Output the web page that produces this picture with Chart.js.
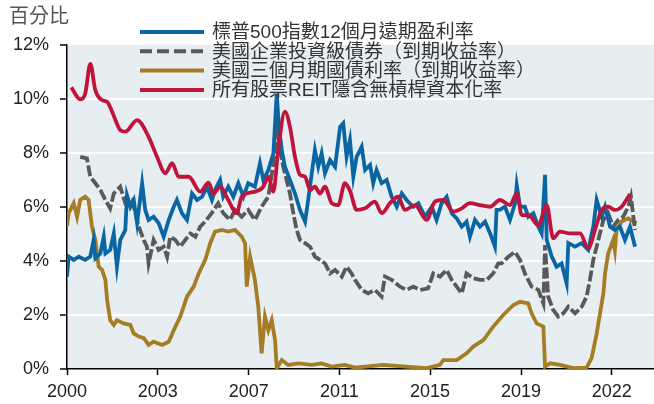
<!DOCTYPE html>
<html>
<head>
<meta charset="utf-8">
<script src="https://cdn.jsdelivr.net/npm/chart.js@4.4.0/dist/chart.umd.min.js"></script>
<style>
  html, body { margin: 0; padding: 0; background: #fff; }
  #wrap { width: 654px; height: 404px; }
</style>
</head>
<body>
<div id="wrap"><canvas id="chart" width="654" height="404"></canvas></div>
<script>
const seriesNames = [
  "標普500指數12個月遠期盈利率",
  "美國企業投資級債券（到期收益率）",
  "美國三個月期國債利率（到期收益率）",
  "所有股票REIT隱含無槓桿資本化率"
];

// x axis: decimal years, tick labels as printed on the source
const xTickPos = [2000, 2003.78, 2007.57, 2011.35, 2015.13, 2018.92, 2022.7];
const xTickLabels = ["2000", "2003", "2007", "2011", "2015", "2019", "2022"];

// S&P 500 12m forward earnings yield (%)
const spX = [2000.00, 2000.07, 2000.28, 2000.49, 2000.76, 2000.97, 2001.11, 2001.18, 2001.39, 2001.53, 2001.60, 2001.80, 2001.95, 2002.08, 2002.22, 2002.43, 2002.50, 2002.64, 2002.78, 2002.92, 2003.13, 2003.26, 2003.40, 2003.61, 2003.82, 2004.03, 2004.24, 2004.45, 2004.58, 2004.79, 2005.00, 2005.21, 2005.42, 2005.63, 2005.83, 2006.04, 2006.17, 2006.38, 2006.51, 2006.72, 2006.93, 2007.14, 2007.35, 2007.55, 2007.83, 2008.04, 2008.18, 2008.39, 2008.60, 2008.67, 2008.74, 2008.83, 2008.95, 2009.08, 2009.29, 2009.50, 2009.71, 2009.92, 2010.05, 2010.20, 2010.33, 2010.47, 2010.61, 2010.75, 2010.96, 2011.17, 2011.38, 2011.51, 2011.65, 2011.79, 2011.93, 2012.07, 2012.28, 2012.42, 2012.63, 2012.76, 2012.90, 2013.11, 2013.32, 2013.53, 2013.74, 2013.95, 2014.15, 2014.43, 2014.64, 2014.92, 2015.20, 2015.40, 2015.61, 2015.82, 2016.03, 2016.24, 2016.45, 2016.65, 2016.79, 2017.00, 2017.21, 2017.42, 2017.63, 2017.83, 2017.90, 2018.04, 2018.25, 2018.46, 2018.67, 2018.74, 2018.88, 2019.08, 2019.22, 2019.43, 2019.64, 2019.78, 2019.92, 2019.99, 2020.20, 2020.40, 2020.61, 2020.82, 2020.89, 2021.17, 2021.45, 2021.72, 2021.93, 2022.07, 2022.28, 2022.42, 2022.63, 2022.83, 2023.04, 2023.25, 2023.46, 2023.67];
const spVals = [3.42, 4.16, 4.04, 4.16, 4.04, 4.16, 4.78, 4.10, 4.28, 4.90, 4.28, 4.41, 5.02, 3.79, 4.78, 5.15, 6.44, 6.01, 6.26, 5.40, 6.88, 5.89, 5.52, 5.64, 5.40, 4.90, 5.52, 6.01, 6.26, 5.77, 5.52, 6.50, 6.26, 6.38, 6.75, 6.26, 6.63, 7.00, 6.38, 6.75, 6.38, 6.88, 6.38, 6.88, 6.75, 7.62, 7.00, 7.37, 7.99, 9.10, 10.20, 8.97, 8.11, 7.49, 7.00, 6.50, 5.89, 5.46, 6.26, 7.25, 8.11, 7.49, 7.99, 7.25, 7.74, 7.49, 8.97, 9.10, 7.86, 8.48, 7.12, 7.86, 8.23, 7.37, 7.56, 6.88, 7.37, 6.88, 7.00, 6.38, 6.01, 6.50, 6.26, 6.01, 6.14, 5.64, 6.01, 5.52, 6.14, 6.38, 5.77, 5.58, 5.27, 5.46, 4.90, 5.52, 5.27, 5.46, 5.02, 4.53, 5.89, 5.90, 6.01, 5.52, 6.14, 6.81, 6.01, 6.01, 5.64, 5.77, 5.27, 5.02, 7.19, 4.78, 4.16, 3.79, 3.91, 3.17, 4.66, 4.53, 4.66, 4.41, 5.27, 6.26, 5.64, 6.01, 5.27, 5.15, 5.27, 4.78, 5.27, 4.53];

// US investment grade corporate bond yield (%)
const igX = [2000.55, 2000.83, 2000.97, 2001.18, 2001.39, 2001.60, 2001.80, 2001.95, 2002.22, 2002.43, 2002.71, 2002.99, 2003.20, 2003.33, 2003.40, 2003.61, 2003.82, 2004.03, 2004.17, 2004.30, 2004.51, 2004.72, 2004.93, 2005.14, 2005.35, 2005.55, 2005.76, 2006.03, 2006.30, 2006.51, 2006.79, 2007.00, 2007.28, 2007.55, 2007.83, 2008.11, 2008.39, 2008.60, 2008.74, 2008.88, 2009.01, 2009.15, 2009.29, 2009.43, 2009.57, 2009.71, 2009.92, 2010.13, 2010.33, 2010.54, 2010.75, 2010.96, 2011.17, 2011.45, 2011.65, 2011.86, 2012.00, 2012.28, 2012.55, 2012.83, 2013.11, 2013.25, 2013.53, 2013.88, 2014.15, 2014.43, 2014.71, 2015.05, 2015.26, 2015.54, 2015.82, 2016.03, 2016.24, 2016.45, 2016.65, 2016.93, 2017.21, 2017.49, 2017.76, 2017.97, 2018.11, 2018.39, 2018.67, 2018.88, 2019.08, 2019.36, 2019.64, 2019.85, 2019.92, 2020.05, 2020.26, 2020.47, 2020.68, 2020.89, 2021.17, 2021.45, 2021.65, 2021.79, 2021.93, 2022.14, 2022.35, 2022.55, 2022.76, 2022.97, 2023.18, 2023.39, 2023.50, 2023.60, 2023.67];
const igVals = [7.86, 7.80, 7.12, 6.88, 6.63, 6.26, 5.95, 6.50, 6.75, 6.14, 6.26, 5.27, 4.78, 4.53, 3.91, 4.78, 4.41, 4.53, 4.16, 4.90, 4.78, 4.53, 4.78, 5.02, 4.90, 5.27, 5.46, 5.77, 6.14, 5.77, 5.52, 5.89, 5.64, 5.89, 5.52, 6.01, 6.38, 7.62, 8.85, 8.11, 7.49, 7.00, 6.50, 5.77, 5.15, 4.78, 4.66, 4.53, 4.16, 4.04, 3.91, 3.54, 3.67, 3.42, 3.79, 3.54, 3.30, 2.93, 2.80, 2.93, 2.68, 3.42, 3.30, 3.05, 2.93, 3.05, 2.93, 2.99, 3.54, 3.42, 3.67, 3.30, 3.05, 2.80, 3.54, 3.36, 3.30, 3.30, 3.54, 3.91, 3.91, 4.16, 4.34, 4.04, 3.54, 3.05, 2.93, 2.43, 4.59, 2.68, 2.19, 1.94, 2.06, 2.31, 2.06, 2.31, 2.68, 3.30, 4.04, 4.78, 5.52, 5.77, 5.27, 5.52, 5.64, 6.01, 6.38, 5.64, 5.15];

// US 3 month treasury bill yield (%)
const tbX = [2000.00, 2000.07, 2000.28, 2000.42, 2000.55, 2000.76, 2000.90, 2001.04, 2001.18, 2001.32, 2001.46, 2001.60, 2001.67, 2001.80, 2001.95, 2002.08, 2002.36, 2002.64, 2002.78, 2002.99, 2003.20, 2003.40, 2003.61, 2003.96, 2004.24, 2004.45, 2004.72, 2005.00, 2005.28, 2005.49, 2005.76, 2005.97, 2006.17, 2006.45, 2006.72, 2007.00, 2007.28, 2007.42, 2007.49, 2007.63, 2007.83, 2007.97, 2008.11, 2008.25, 2008.39, 2008.53, 2008.67, 2008.74, 2008.95, 2009.22, 2009.64, 2010.20, 2010.61, 2011.03, 2011.58, 2012.00, 2013.17, 2014.99, 2015.54, 2015.68, 2016.24, 2016.65, 2016.93, 2017.35, 2017.76, 2018.18, 2018.60, 2018.88, 2019.22, 2019.36, 2019.57, 2019.85, 2019.92, 2020.13, 2020.54, 2021.10, 2021.65, 2021.86, 2022.07, 2022.21, 2022.35, 2022.42, 2022.55, 2022.76, 2022.83, 2022.90, 2023.11, 2023.39, 2023.60, 2023.74];
const tbVals = [5.30, 5.77, 6.14, 5.64, 6.26, 6.38, 6.26, 5.27, 4.78, 3.79, 3.67, 3.30, 2.56, 1.81, 1.63, 1.81, 1.69, 1.63, 1.32, 1.20, 1.14, 0.89, 1.01, 0.89, 1.01, 1.44, 1.94, 2.68, 3.05, 3.54, 4.04, 4.66, 5.09, 5.15, 5.09, 5.15, 4.90, 4.66, 3.05, 4.16, 3.30, 2.31, 0.58, 1.94, 1.44, 1.81, 1.07, 0.02, 0.33, 0.15, 0.21, 0.15, 0.21, 0.09, 0.15, 0.05, 0.15, 0.03, 0.15, 0.33, 0.33, 0.58, 0.83, 1.07, 1.57, 2.00, 2.37, 2.49, 2.43, 2.06, 1.69, 1.57, 0.09, 0.21, 0.15, 0.03, 0.05, 0.40, 1.30, 2.06, 2.80, 3.54, 4.28, 4.78, 4.40, 5.15, 5.46, 5.58, 5.46, 5.40];

// All equity REITs implied unlevered cap rate (%)
const reitX = [2000.18, 2000.55, 2000.76, 2000.97, 2001.18, 2001.46, 2001.67, 2001.88, 2002.22, 2002.43, 2002.92, 2003.40, 2003.75, 2004.10, 2004.38, 2004.65, 2005.07, 2005.55, 2005.90, 2006.10, 2006.38, 2006.72, 2007.07, 2007.28, 2007.83, 2008.18, 2008.39, 2008.60, 2008.80, 2009.08, 2009.29, 2009.50, 2009.71, 2009.92, 2010.13, 2010.33, 2010.54, 2010.75, 2011.03, 2011.30, 2011.58, 2011.79, 2012.07, 2012.42, 2012.83, 2013.11, 2013.46, 2013.80, 2014.08, 2014.50, 2014.99, 2015.33, 2015.68, 2016.10, 2016.45, 2016.79, 2017.21, 2017.63, 2018.04, 2018.46, 2018.74, 2018.95, 2019.22, 2019.64, 2019.99, 2020.26, 2020.54, 2020.96, 2021.38, 2021.72, 2022.00, 2022.28, 2022.55, 2022.83, 2023.11, 2023.46];
const reitVals = [10.43, 9.99, 10.20, 11.30, 10.33, 9.96, 9.90, 9.53, 8.85, 8.79, 9.22, 8.60, 7.86, 7.25, 7.62, 7.12, 7.12, 6.57, 6.90, 6.50, 6.75, 6.26, 5.77, 6.38, 6.57, 6.75, 7.12, 6.57, 8.11, 9.53, 8.97, 7.86, 7.19, 7.12, 6.63, 6.75, 6.50, 6.75, 6.14, 6.07, 6.88, 6.60, 5.89, 5.95, 6.20, 5.77, 6.14, 6.38, 5.89, 6.07, 5.52, 6.20, 6.26, 5.83, 5.95, 6.14, 6.07, 6.01, 6.26, 6.07, 6.50, 5.70, 5.70, 5.33, 6.07, 4.84, 5.09, 5.02, 5.02, 4.47, 5.15, 5.89, 6.01, 5.89, 6.01, 6.48];

const colors = ["#0a66a2", "#595959", "#a47d24", "#c0143c"];

function toPoints(xs, ys) {
  return xs.map((x, i) => ({ x: x, y: ys[i] }));
}

const plotBg = {
  id: "plotBg",
  beforeDraw(chart) {
    const { ctx, chartArea: a } = chart;
    ctx.save();
    ctx.fillStyle = "#e6eef2";
    ctx.fillRect(a.left, a.top, a.right - a.left, a.bottom - a.top);
    ctx.restore();
  }
};

// unit label and legend drawn over the top of the plot
const overlay = {
  id: "overlay",
  afterDraw(chart) {
    const ctx = chart.ctx;
    ctx.save();
    ctx.fillStyle = "#555";
    ctx.font = '20px "Noto Sans CJK TC", sans-serif';
    ctx.textBaseline = "middle";
    ctx.textAlign = "left";
    ctx.fillText("百分比", 9, 15);

    ctx.font = '19px "Liberation Sans", "Noto Sans CJK TC", sans-serif';
    chart.data.datasets.forEach((ds, i) => {
      const y = 32 + i * 19.3;
      ctx.strokeStyle = ds.borderColor;
      ctx.lineWidth = 4;
      ctx.setLineDash(ds.borderDash ? [12, 5] : []);
      ctx.beginPath();
      ctx.moveTo(140, y);
      ctx.lineTo(204, y);
      ctx.stroke();
      ctx.fillStyle = "#333";
      ctx.fillText(ds.label, 212, y + 1);
    });
    ctx.restore();
  }
};

Chart.defaults.font.family = '"Liberation Sans", Arial, "Noto Sans CJK TC", sans-serif';
Chart.defaults.color = "#222";

new Chart(document.getElementById("chart"), {
  type: "line",
  data: {
    datasets: [
      {
        label: seriesNames[0],
        data: toPoints(spX, spVals),
        borderColor: colors[0],
        borderWidth: 3.8,
        tension: 0,
        order: 1
      },
      {
        label: seriesNames[1],
        data: toPoints(igX, igVals),
        borderColor: colors[1],
        borderWidth: 3.8,
        borderDash: [11, 3],
        tension: 0,
        order: 2
      },
      {
        label: seriesNames[2],
        data: toPoints(tbX, tbVals),
        borderColor: colors[2],
        borderWidth: 3.8,
        tension: 0,
        order: 3
      },
      {
        label: seriesNames[3],
        data: toPoints(reitX, reitVals),
        borderColor: colors[3],
        borderWidth: 3.8,
        tension: 0.4,
        cubicInterpolationMode: "monotone",
        order: 0
      }
    ]
  },
  options: {
    responsive: false,
    animation: false,
    layout: { padding: { top: 45, left: 0, right: 0, bottom: 0 } },
    elements: { point: { radius: 0 } },
    plugins: {
      legend: { display: false },
      tooltip: { enabled: false }
    },
    scales: {
      x: {
        type: "linear",
        min: 2000,
        max: 2024.46,
        afterFit: (s) => { s.height = 35; },
        afterBuildTicks: (s) => { s.ticks = xTickPos.map((v) => ({ value: v })); },
        grid: { drawOnChartArea: false, tickColor: "#000", tickLength: 6, tickWidth: 1.5 },
        border: { color: "#000", width: 1.5 },
        ticks: {
          autoSkip: false,
          maxRotation: 0,
          padding: 6,
          color: "#222",
          font: { size: 18 },
          callback: (v, i) => xTickLabels[i]
        }
      },
      y: {
        min: 0,
        max: 12,
        afterFit: (s) => { s.width = 67; },
        grid: {
          color: (c) => (c.tick && (c.tick.value === 0 || c.tick.value === 12) ? "rgba(0,0,0,0)" : "#fff"),
          lineWidth: 2,
          tickColor: "#000",
          tickLength: 7,
          tickWidth: 1.5
        },
        border: { color: "#000", width: 1.5 },
        ticks: {
          stepSize: 2,
          padding: 11,
          color: "#222",
          font: { size: 18 },
          callback: (v) => v + "%"
        }
      }
    }
  },
  plugins: [plotBg, overlay]
});
</script>
</body>
</html>
